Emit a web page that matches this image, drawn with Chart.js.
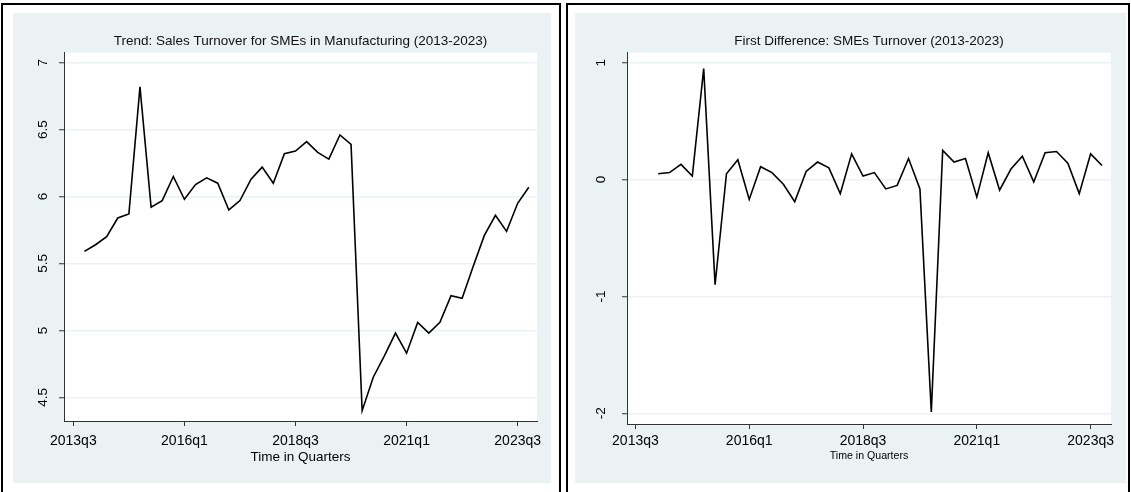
<!DOCTYPE html>
<html>
<head>
<meta charset="utf-8">
<script src="https://cdn.jsdelivr.net/npm/chart.js@4.4.1/dist/chart.umd.min.js"></script>
<style>
  body { margin: 0; background: #fff; width: 1131px; height: 492px; overflow: hidden; position: relative; }
  .frame { position: absolute; border: 2px solid #000; box-sizing: border-box; }
  .panel { position: absolute; background: #eaf2f3; }
</style>
</head>
<body>
<div class="frame" style="left:1px;top:3px;width:560px;height:500px"></div>
<div class="frame" style="left:566px;top:3px;width:564px;height:500px"></div>
<div class="panel" style="left:13px;top:13px;width:538px;height:470px"><canvas id="levelChart"></canvas></div>
<div class="panel" style="left:575px;top:13px;width:551px;height:470px"><canvas id="diffChart"></canvas></div>
<script>
var quarters = ['2013q4',
    '2014q1', '2014q2', '2014q3', '2014q4', '2015q1', '2015q2', '2015q3', '2015q4',
    '2016q1', '2016q2', '2016q3', '2016q4', '2017q1', '2017q2', '2017q3', '2017q4',
    '2018q1', '2018q2', '2018q3', '2018q4', '2019q1', '2019q2', '2019q3', '2019q4',
    '2020q1', '2020q2', '2020q3', '2020q4', '2021q1', '2021q2', '2021q3', '2021q4',
    '2022q1', '2022q2', '2022q3', '2022q4', '2023q1', '2023q2', '2023q3', '2023q4'];

// log sales turnover, level
var levelValues = [5.59,
    5.64, 5.70, 5.84, 5.87, 6.82, 5.92, 5.97, 6.15,
    5.98, 6.09, 6.14, 6.10, 5.90, 5.97, 6.13, 6.22,
    6.10, 6.32, 6.34, 6.41, 6.33, 6.28, 6.46, 6.39,
    4.40, 4.65, 4.81, 4.98, 4.83, 5.06, 4.98, 5.06,
    5.26, 5.24, 5.48, 5.71, 5.86, 5.74, 5.95, 6.07];

// first difference, starts one quarter later
var diffQuarters = quarters.slice(1);
var diffValues = [
    0.05, 0.06, 0.13, 0.03, 0.95, -0.90, 0.05, 0.17,
    -0.17, 0.11, 0.06, -0.04, -0.19, 0.07, 0.15, 0.10,
    -0.12, 0.22, 0.03, 0.06, -0.08, -0.05, 0.18, -0.08,
    -1.99, 0.25, 0.15, 0.18, -0.15, 0.23, -0.09, 0.09,
    0.20, -0.02, 0.23, 0.24, 0.14, -0.12, 0.22, 0.12];

var xTickLabels = ['2013q3', '2016q1', '2018q3', '2021q1', '2023q3'];
var levelTicks = [4.5, 5, 5.5, 6, 6.5, 7];
var diffTicks = [-2, -1, 0, 1];

var FONT = "'Liberation Sans', Arial, sans-serif";

// quarters counted from 2013q3
function quarterIndex(label) {
    var year = parseInt(label.slice(0, 4), 10);
    var q = parseInt(label.slice(5), 10);
    return (year - 2013) * 4 + (q - 3);
}

function toPoints(labels, values) {
    return labels.map(function (l, i) { return { x: quarterIndex(l), y: values[i] }; });
}

// white plot region on the grey graph region
var plotBackground = {
    id: 'plotBackground',
    beforeDraw: function (chart) {
        var a = chart.chartArea;
        var ctx = chart.ctx;
        ctx.save();
        ctx.fillStyle = '#ffffff';
        ctx.fillRect(a.left, a.top, a.right - a.left, a.bottom - a.top);
        ctx.restore();
    }
};

function buildChart(id, s) {
    return new Chart(document.getElementById(id), {
        type: 'line',
        data: {
            datasets: [{
                data: s.points,
                borderColor: '#000',
                borderWidth: 1.6,
                pointRadius: 0,
                tension: 0,
                fill: false
            }]
        },
        options: {
            responsive: true,
            maintainAspectRatio: false,
            animation: false,
            layout: { padding: { left: 0, right: s.padRight, top: 0, bottom: 0 } },
            plugins: {
                legend: { display: false },
                tooltip: { enabled: false },
                title: {
                    display: true,
                    text: s.title,
                    fullSize: false,
                    color: '#111',
                    font: { family: FONT, size: 13.5, weight: 'normal' },
                    padding: { top: 20, bottom: 3.5 }
                }
            },
            scales: {
                x: {
                    type: 'linear',
                    min: s.xMin,
                    max: s.xMax,
                    afterBuildTicks: function (scale) {
                        scale.ticks = xTickLabels.map(function (l) { return { value: quarterIndex(l) }; });
                    },
                    afterFit: function (scale) { scale.height = s.xHeight; },
                    ticks: {
                        autoSkip: false,
                        maxRotation: 0,
                        padding: s.xPad,
                        color: '#000',
                        font: { family: FONT, size: 14 },
                        callback: function (v, i) { return xTickLabels[i]; }
                    },
                    grid: { drawOnChartArea: false, tickLength: 5, tickColor: '#333', tickWidth: 1 },
                    border: { color: '#333', width: 1 },
                    title: {
                        display: true,
                        text: 'Time in Quarters',
                        color: '#000',
                        font: { family: FONT, size: s.xTitleSize },
                        padding: { top: 0, bottom: s.xTitlePad }
                    }
                },
                y: {
                    type: 'linear',
                    min: s.yMin,
                    max: s.yMax,
                    afterBuildTicks: function (scale) {
                        scale.ticks = s.yTicks.map(function (v) { return { value: v }; });
                    },
                    afterFit: function (scale) { scale.width = s.yWidth; },
                    ticks: {
                        minRotation: 90,
                        maxRotation: 90,
                        crossAlign: 'center',
                        padding: s.yPad,
                        color: '#000',
                        font: { family: FONT, size: 13.5 },
                        callback: function (v) { return String(v); }
                    },
                    grid: { color: '#eaf2f3', lineWidth: 1.5, tickLength: 5, tickColor: '#333', tickWidth: 1 },
                    border: { color: '#333', width: 1 }
                }
            }
        },
        plugins: [plotBackground]
    });
}

buildChart('levelChart', {
    title: 'Trend: Sales Turnover for SMEs in Manufacturing (2013-2023)',
    points: toPoints(quarters, levelValues),
    xMin: -0.84, xMax: 41.74,
    yMin: 4.323, yMax: 7.075,
    yTicks: levelTicks,
    padRight: 14, xHeight: 62, yWidth: 51, yPad: 6, xPad: 7,
    xTitleSize: 13.5, xTitlePad: 18
});

buildChart('diffChart', {
    title: 'First Difference: SMEs Turnover (2013-2023)',
    points: toPoints(diffQuarters, diffValues),
    xMin: -0.74, xMax: 41.79,
    yMin: -2.092, yMax: 1.086,
    yTicks: diffTicks,
    padRight: 15, xHeight: 59, yWidth: 52, yPad: 15, xPad: 4,
    xTitleSize: 10.6, xTitlePad: 21
});
</script>
</body>
</html>
